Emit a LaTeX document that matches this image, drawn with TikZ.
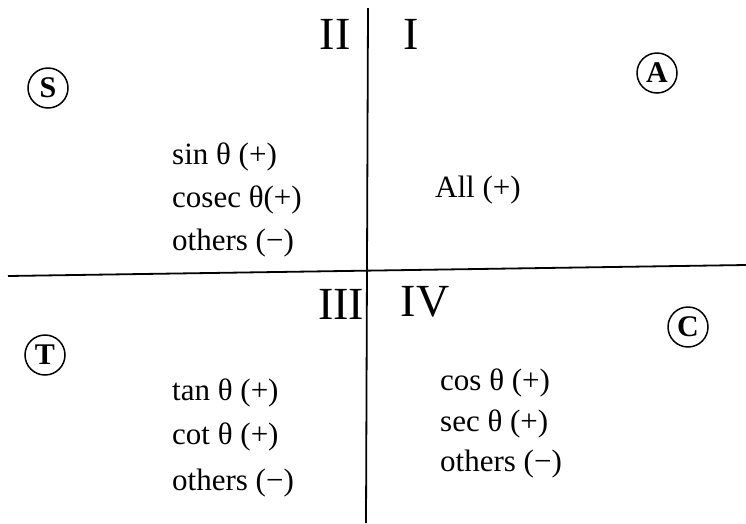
\documentclass[tikz,border=0pt]{standalone}
\usepackage{fontspec}
\setmainfont{Liberation Serif}
\usetikzlibrary{positioning}
\tikzset{
	% numero del quadrante
	quadrante/.style={inner sep=0pt, font=\fontsize{46}{46}\selectfont},
	% lettera cerchiata
	lettera/.style={draw, circle, line width=1.5pt, minimum size=40pt, inner sep=0pt,
	                font=\fontsize{30}{30}\selectfont\bfseries},
	% riga dell'elenco dei segni
	segno/.style={anchor=west, inner sep=0pt, font=\fontsize{31}{31}\selectfont},
	% assi
	asse/.style={line width=1.8pt},
}

\begin{document}
\begin{tikzpicture}[x=1pt, y=-1pt]
    \useasboundingbox (0,0) rectangle (746,523);

    % assi
    \coordinate (asseN) at (368,8);
    \coordinate (asseS) at (366,523);
    \coordinate (asseO) at (8,276);
    \coordinate (asseE) at (746,265);
    \draw[asse] (asseN) -- (asseS);
    \draw[asse] (asseO) -- (asseE);

    % quadranti
    \node[quadrante] (q2) at (335,34) {II};
    \node[quadrante] (q1) at (411,34) {I};
    \node[quadrante] (q3) at (341,304) {III};
    \node[quadrante] (q4) at (425,302) {IV};

    % lettere
    \node[lettera] (S) at (48,88) {S};
    \node[lettera] (A) at (657,73) {A};
    \node[lettera] (T) at (45,355) {T};
    \node[lettera] (C) at (688,327) {C};

    % secondo quadrante
    \node[segno] (sin) at (172,157) {sin θ (+)};
    \node[segno] (cosec) at (172,200) {cosec θ(+)};
    \node[segno] (altri2) at (172,243) {others (−)};

    % primo quadrante
    \node[segno] (all) at (435,190) {All (+)};

    % terzo quadrante
    \node[segno] (tan) at (172,393) {tan θ (+)};
    \node[segno] (cot) at (172,437) {cot θ (+)};
    \node[segno] (altri3) at (172,483) {others (−)};

    % quarto quadrante
    \node[segno] (cos) at (440,383) {cos θ (+)};
    \node[segno] (sec) at (440,424) {sec θ (+)};
    \node[segno] (altri4) at (440,464) {others (−)};
\end{tikzpicture}
\end{document}
